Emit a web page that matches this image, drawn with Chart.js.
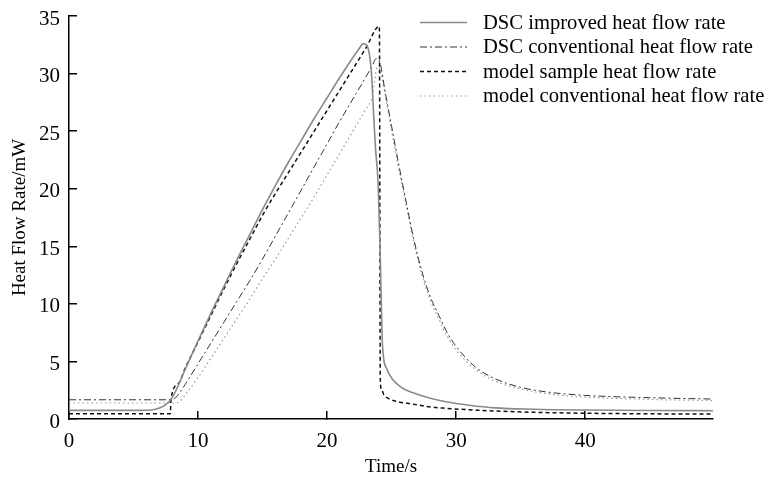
<!DOCTYPE html>
<html>
<head>
<meta charset="utf-8">
<title>Heat flow rate</title>
<script src="https://cdn.jsdelivr.net/npm/chart.js@4.4.1/dist/chart.umd.min.js"></script>
<style>
  html, body { margin: 0; padding: 0; background: #fff; }
</style>
</head>
<body>
<canvas id="heatChart" width="773" height="479"></canvas>
<script>
// series names (legend order)
const seriesNames = [
    'DSC improved heat flow rate',
    'DSC conventional heat flow rate',
    'model sample heat flow rate',
    'model conventional heat flow rate'
];

// DSC improved (solid grey)
const improvedTime = [0, 5.5, 6.5, 7, 7.5, 8, 9, 10, 11, 12, 13, 14, 15, 16, 17, 18, 19, 20, 21, 22, 22.5, 22.8, 23.1, 23.3, 23.45, 23.6, 23.75, 23.95, 24.1, 24.2, 24.3, 24.6, 25.1, 25.8, 26.6, 28, 29.2, 31, 33, 36, 40, 45, 49.9];
const improvedFlow = [0.75, 0.75, 0.8, 0.95, 1.25, 1.85, 4.3, 6.8, 9.2, 11.5, 13.8, 16.0, 18.2, 20.3, 22.3, 24.2, 26.1, 27.9, 29.7, 31.4, 32.2, 32.6, 32.4, 31.5, 29.8, 26.5, 23.5, 20.5, 15, 10, 6.2, 4.4, 3.4, 2.7, 2.3, 1.8, 1.5, 1.2, 0.97, 0.85, 0.78, 0.74, 0.72];

// DSC conventional (dash-dot)
const conventionalTime = [0, 8.0, 8.3, 8.7, 9, 10, 11, 12, 13, 14, 15, 16, 17, 18, 19, 20, 21, 22, 23, 23.5, 23.8, 24.05, 24.5, 25, 25.5, 26.1, 26.7, 27.4, 28, 28.7, 29.3, 30, 31.5, 33, 35, 37, 40, 45, 49.9];
const conventionalFlow = [1.67, 1.67, 1.9, 2.5, 3.0, 4.8, 6.6, 8.4, 10.2, 12.0, 13.9, 15.9, 17.9, 19.9, 21.9, 23.9, 25.9, 27.8, 29.7, 30.7, 31.3, 31.1, 28.4, 25.4, 22.4, 19.0, 15.7, 12.6, 10.6, 8.9, 7.5, 6.3, 4.5, 3.5, 2.75, 2.35, 2.05, 1.85, 1.73];

// model sample (dashed)
const sampleTime = [0, 7.85, 7.9, 8.5, 9, 10, 11, 12, 13, 14, 15, 16, 17, 18, 19, 20, 21, 22, 23, 24.05, 24.12, 24.2, 24.4, 24.8, 25.5, 26.6, 28, 29.2, 31, 33.1, 36, 40, 45, 49.9];
const sampleFlow = [0.46, 0.46, 1.7, 3.1, 4.4, 6.7, 9.0, 11.3, 13.5, 15.6, 17.7, 19.6, 21.4, 23.2, 25.0, 26.8, 28.6, 30.4, 32.2, 34.1, 3.5, 2.6, 2.1, 1.75, 1.5, 1.3, 1.05, 0.93, 0.8, 0.69, 0.58, 0.5, 0.45, 0.43];

// model conventional (dotted)
const modelConvTime = [0, 8.2, 8.6, 9, 10, 11, 12, 13, 14, 15, 16, 17, 18, 19, 20, 21, 22, 23, 23.5, 23.9, 24.2, 24.6, 25, 25.5, 26.1, 26.7, 27.4, 28, 28.7, 29.3, 30, 31.5, 33, 35, 37, 40, 45, 49.9];
const modelConvFlow = [1.39, 1.39, 1.55, 2.1, 3.6, 5.3, 7.0, 8.7, 10.4, 12.2, 13.9, 15.7, 17.5, 19.3, 21.2, 23.1, 25.0, 26.9, 28.0, 30.6, 30.0, 27.5, 25.0, 22.0, 18.7, 15.4, 12.3, 10.3, 8.6, 7.2, 6.0, 4.3, 3.3, 2.6, 2.2, 1.9, 1.7, 1.6];

const xTicks = [0, 10, 20, 30, 40];
const yTicks = [0, 5, 10, 15, 20, 25, 30, 35];

const serif = '"Liberation Serif", "Times New Roman", serif';

function toPoints(times, values) {
    return times.map((t, i) => ({ x: t, y: values[i] }));
}

// legend drawn inside the plot, top right, no box
const lineLegend = {
    id: 'lineLegend',
    afterDraw(chart) {
        const ctx = chart.ctx;
        ctx.save();
        ctx.font = '20.6px ' + serif;
        ctx.textBaseline = 'middle';
        chart.data.datasets.forEach((ds, i) => {
            const y = 22.5 + i * 24.5;
            ctx.strokeStyle = ds.borderColor;
            ctx.lineWidth = ds.borderWidth;
            ctx.setLineDash(ds.borderDash || []);
            ctx.beginPath();
            ctx.moveTo(420, y);
            ctx.lineTo(467, y);
            ctx.stroke();
            ctx.setLineDash([]);
            ctx.fillStyle = '#000';
            ctx.fillText(ds.label, 483, y + 1);
        });
        ctx.restore();
    }
};

new Chart(document.getElementById('heatChart'), {
    type: 'line',
    data: {
        datasets: [{
            label: seriesNames[0],
            data: toPoints(improvedTime, improvedFlow),
            borderColor: '#8a8a8a',
            borderWidth: 1.6
        }, {
            label: seriesNames[1],
            data: toPoints(conventionalTime, conventionalFlow),
            borderColor: '#333333',
            borderWidth: 1,
            borderDash: [7, 3, 2, 3]
        }, {
            label: seriesNames[2],
            data: toPoints(sampleTime, sampleFlow),
            borderColor: '#111111',
            borderWidth: 1.5,
            borderDash: [4, 3]
        }, {
            label: seriesNames[3],
            data: toPoints(modelConvTime, modelConvFlow),
            borderColor: '#9a9a9a',
            borderWidth: 1.2,
            borderDash: [1.5, 3]
        }]
    },
    options: {
        responsive: false,
        animation: false,
        devicePixelRatio: 1,
        layout: { padding: { left: 0, right: 60, top: 16, bottom: 0 } },
        elements: {
            point: { radius: 0 },
            line: { cubicInterpolationMode: 'monotone', fill: false }
        },
        plugins: {
            legend: { display: false },
            tooltip: { enabled: false }
        },
        scales: {
            x: {
                type: 'linear',
                min: 0,
                max: 49.9,
                border: { color: '#000', width: 1.5 },
                grid: { drawOnChartArea: false, tickLength: -8, color: '#000', lineWidth: 1.5 },
                ticks: { color: '#000', font: { family: serif, size: 21 }, padding: 18 },
                afterBuildTicks: scale => { scale.ticks = xTicks.map(v => ({ value: v })); },
                afterFit: scale => {
                    scale.height = 60;
                    scale.paddingLeft = 0;
                    scale.paddingRight = 0;
                },
                title: {
                    display: true,
                    text: 'Time/s',
                    color: '#000',
                    font: { family: serif, size: 19 },
                    padding: { top: 0, bottom: 1 }
                }
            },
            y: {
                type: 'linear',
                min: 0,
                max: 35,
                border: { color: '#000', width: 1.5 },
                grid: { drawOnChartArea: false, tickLength: -8, color: '#000', lineWidth: 1.5 },
                ticks: { color: '#000', font: { family: serif, size: 21 }, padding: 17, labelOffset: 3 },
                afterBuildTicks: scale => { scale.ticks = yTicks.map(v => ({ value: v })); },
                afterFit: scale => {
                    scale.width = 69;
                    scale.paddingTop = 0;
                    scale.paddingBottom = 0;
                },
                title: {
                    display: true,
                    text: 'Heat Flow Rate/mW',
                    color: '#000',
                    font: { family: serif, size: 19 },
                    padding: { top: 9, bottom: 0 }
                }
            }
        }
    },
    plugins: [lineLegend]
});
</script>
</body>
</html>
